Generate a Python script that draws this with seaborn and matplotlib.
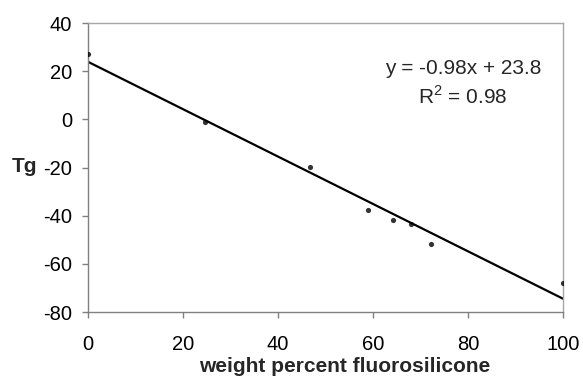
import numpy as np
import pandas as pd
import matplotlib
matplotlib.use("Agg")
import matplotlib.pyplot as plt
import seaborn as sns

# data
weight_pct = [0, 24.6, 46.8, 58.9, 64.2, 67.9, 72.3, 100]
tg_values = [27.1, -1.0, -19.8, -37.8, -41.8, -43.6, -51.8, -67.8]
x_ticks = [0, 20, 40, 60, 80, 100]
y_ticks = [-80, -60, -40, -20, 0, 20, 40]
eq_text = "y = -0.98x + 23.8"
r2_text = "R$^2$ = 0.98"

df = pd.DataFrame({"w": weight_pct, "tg": tg_values})

sns.set_theme(style="white")
plt.rcParams["font.family"] = ["Liberation Sans", "DejaVu Sans"]
plt.rcParams["mathtext.fontset"] = "custom"
plt.rcParams["mathtext.rm"] = "Liberation Sans"

fig = plt.figure(figsize=(5.83, 3.77), dpi=100)
W, H = 583, 377
left, right, top, bottom = 88, 563, 23, 312
ax = fig.add_axes([left / W, 1 - bottom / H, (right - left) / W, (bottom - top) / H])

sns.regplot(data=df, x="w", y="tg", ax=ax, ci=None, truncate=True,
            scatter_kws=dict(marker="D", s=14, color="black", linewidths=0, zorder=3),
            line_kws=dict(color="black", lw=1.6, zorder=2))

ax.set_xlim(0, 100)
ax.set_ylim(-80, 40)
ax.set_xticks(x_ticks)
ax.set_yticks(y_ticks)
ax.set_xticklabels([str(t) for t in x_ticks], fontsize=14.5)
ax.set_yticklabels([str(t) for t in y_ticks], fontsize=14.5)
ax.tick_params(axis="both", direction="out", length=4.5, width=1, color="#808080",
               bottom=True, left=True, labelcolor="black")
ax.tick_params(axis="y", pad=7)
ax.tick_params(axis="x", pad=12)
ax.set_xlabel("")
ax.set_ylabel("")
for s in ["left", "bottom"]:
    ax.spines[s].set_color("#808080")
    ax.spines[s].set_linewidth(1)
for s in ["top", "right"]:
    ax.spines[s].set_color("#a6a6a6")
    ax.spines[s].set_linewidth(1)
ax.set_facecolor("white")

fig.text(345 / W, 1 - 367 / H, "weight percent fluorosilicone", fontsize=15,
         fontweight="bold", ha="center", va="center")
fig.text(12 / W, 1 - 166 / H, "Tg", fontsize=15, fontweight="bold",
         ha="left", va="center")

ax.text(0.789, 0.844, eq_text, transform=ax.transAxes, fontsize=15,
        ha="center", va="center")
ax.text(0.789, 0.744, r2_text, transform=ax.transAxes, fontsize=15,
        ha="center", va="center")

fig.savefig("out.png", dpi=100)
